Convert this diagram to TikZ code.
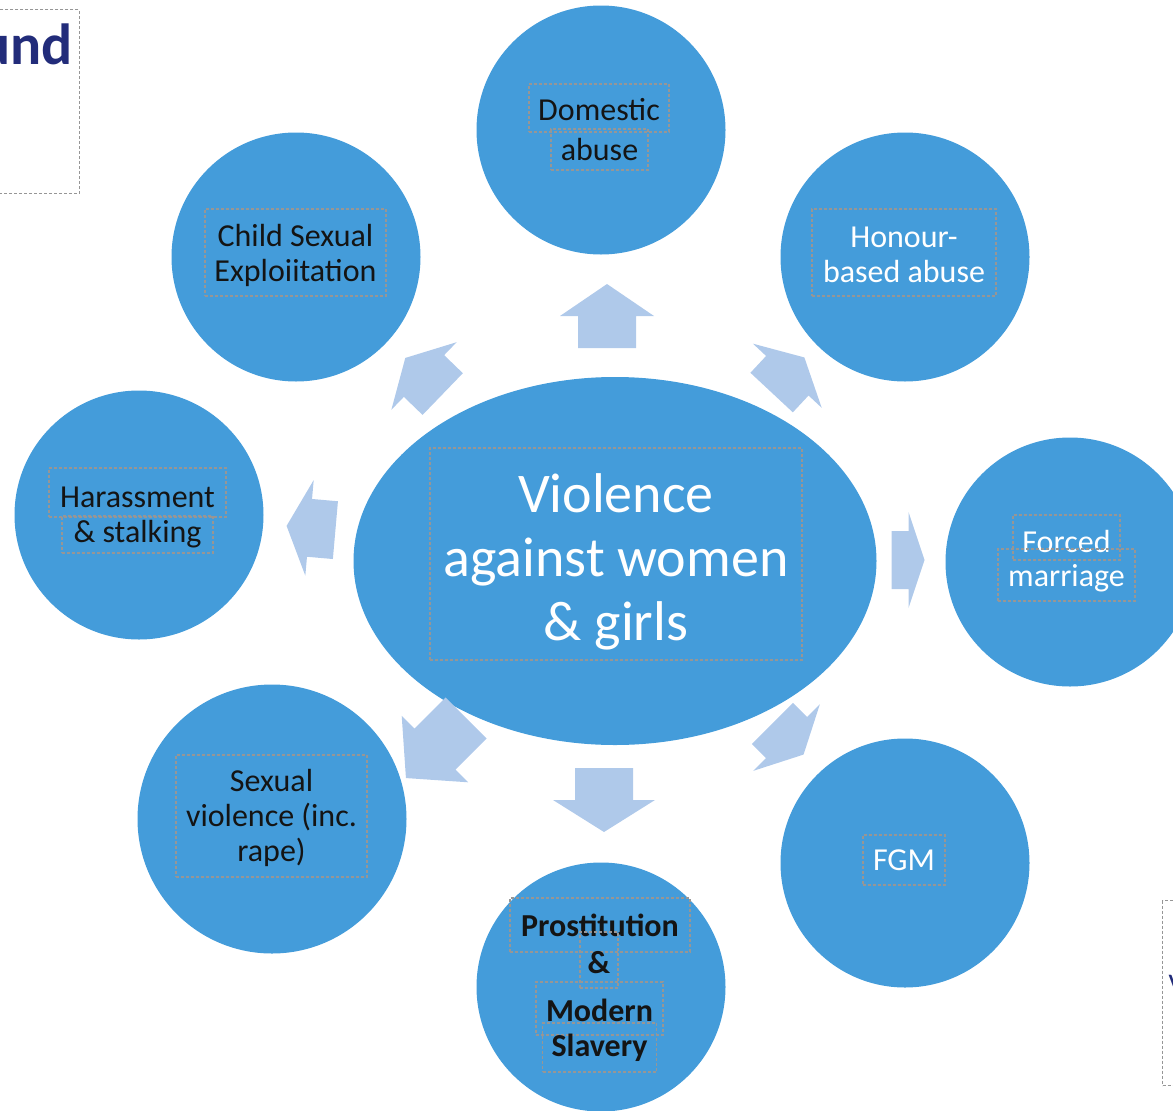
\documentclass[tikz,border=0pt]{standalone}
\usepackage{fontspec}
\setmainfont{Carlito}
\usetikzlibrary{shapes,arrows,positioning}

\definecolor{blobblue}{RGB}{68,156,218}
\definecolor{shiftblue}{RGB}{175,201,234}
\definecolor{boxgrey}{RGB}{150,150,150}
\definecolor{inkdark}{RGB}{20,20,20}
\definecolor{titlenavy}{RGB}{34,44,122}
\newcommand{\lblfont}{\fontsize{32}{35}\selectfont}
\newcommand{\hubfont}{\fontsize{56}{64}\selectfont}

\begin{document}
\begin{tikzpicture}[x=1pt, y=-1pt]
			\tikzstyle{Blob}	= [circle, fill=blobblue, minimum size=249pt, inner sep=0pt]
			\tikzstyle{Hub}		= [ellipse, fill=blobblue, minimum width=523pt, minimum height=368pt, inner sep=0pt]
			\tikzstyle{TBox}	= [draw=boxgrey, line width=1.3pt, dash pattern=on 3pt off 2pt, inner sep=0pt, align=center, font=\lblfont, text=inkdark]
			\tikzstyle{Light}	= [text=white]
			\tikzstyle{Shift}	= [fill=shiftblue]

			\useasboundingbox (0,0) rectangle (1173,1111);
			\clip (0,0) rectangle (1173,1111);

			% circles round the hub
			\node (dom) at (601,130) [Blob] {};
			\node (hon) at (905,257) [Blob] {};
			\node (forced) at (1070,562) [Blob] {};
			\node (fgm) at (905,863) [Blob] {};
			\node (prost) at (601,987) [Blob] {};
			\node (sexv) at (272,819) [Blob, minimum size=269pt] {};
			\node (harass) at (139,515) [Blob] {};
			\node (cse) at (296,257) [Blob] {};
			\node (vawg) at (615,561) [Hub] {};

			% block arrows: centre x/y, angle, length, head, half head width
			\foreach \x/\y/\a/\l/\h/\w in {607/316/90/64/32/47, 788/375/47/48/25/47, 908/560/0/33/16/48, 788/739/-45/44/24/47, 604/800/-90/64/32/51, 436/748/225/85/41/47, 311/528/175/49/23/48, 424/376/136/52/26/47}
				\fill [Shift, shift={(\x,\y)}, rotate=\a] (-0.5*\l,-29) -- (0.5*\l-\h,-29) -- (0.5*\l-\h,-\w) -- (0.5*\l,0) -- (0.5*\l-\h,\w) -- (0.5*\l-\h,29) -- (-0.5*\l,29) -- cycle;

			% text boxes
			\node (vawgT) at (616,554) [TBox, Light, font=\hubfont, minimum width=372pt, minimum height=212pt] {\rule{0pt}{54pt}Violence\\against women\\\& girls};
			\node (domA) at (599,108) [TBox, minimum width=140pt, minimum height=48pt] {\rule{0pt}{26pt}Domestic};
			\node (domB) at (599.5,149.5) [TBox, minimum width=97pt, minimum height=41pt] {abuse};
			\node (honT) at (904,252.5) [TBox, Light, minimum width=184pt, minimum height=87pt] {\rule{0pt}{26pt}Honour-\\based abuse};
			\node (forcedA) at (1066.5,537.5) [TBox, Light, minimum width=107pt, minimum height=45pt] {\rule{0pt}{30pt}Forced};
			\node (forcedB) at (1066.5,575) [TBox, Light, minimum width=137pt, minimum height=52pt] {\rule{0pt}{28pt}marriage};
			\node (fgmT) at (904,860) [TBox, Light, minimum width=82pt, minimum height=50pt] {FGM};
			\node (prostA) at (600,925) [TBox, font=\lblfont\bfseries, minimum width=180pt, minimum height=54pt] {Prostitution};
			\node (prostB) at (599,960) [TBox, font=\lblfont\bfseries, minimum width=38pt, minimum height=56pt] {\rule{0pt}{28pt}\&};
			\node (prostC) at (599.5,1008.5) [TBox, font=\lblfont\bfseries, minimum width=127pt, minimum height=53pt] {\rule{0pt}{26pt}Modern};
			\node (prostD) at (599.5,1047.5) [TBox, font=\lblfont\bfseries, minimum width=114pt, minimum height=49pt] {Slavery};
			\node (sexvT) at (271.5,816) [TBox, minimum width=191pt, minimum height=122pt] {\rule{0pt}{27pt}Sexual\\violence (inc.\\rape)};
			\node (harassA) at (137.5,492.5) [TBox, minimum width=177pt, minimum height=49pt] {\rule{0pt}{30pt}Harassment};
			\node (harassB) at (137.5,534.5) [TBox, minimum width=151pt, minimum height=37pt] {\& stalking};
			\node (cseT) at (295.5,252.5) [TBox, minimum width=181pt, minimum height=87pt] {\rule{0pt}{28pt}Child Sexual\\Exploiitation};

			% cut-off boxes at the edges
			\node (titlebox) at (80,9) [TBox, anchor=north east, minimum width=130pt, minimum height=184pt] {};
			\node (title) at (76,44) [anchor=east, text=titlenavy, font=\fontsize{58}{60}\selectfont\bfseries] {und};
			\node (notebox) at (1162,900) [TBox, anchor=north west, minimum width=60pt, minimum height=185pt] {};
			\node (note) at (1165,985) [anchor=west, text=titlenavy, font=\fontsize{30}{32}\selectfont] {V};
		\end{tikzpicture}
\end{document}
